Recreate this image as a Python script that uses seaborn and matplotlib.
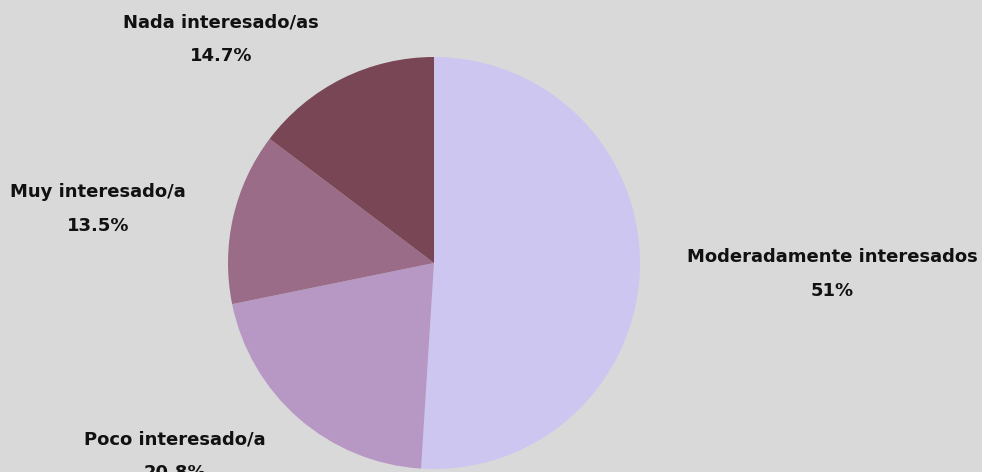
import matplotlib
matplotlib.use("Agg")
import matplotlib.pyplot as plt
import seaborn as sns

labels = ["Moderadamente interesados", "Poco interesado/a", "Muy interesado/a", "Nada interesado/as"]
values = [51, 20.8, 13.5, 14.7]
pct_text = ["51%", "20.8%", "13.5%", "14.7%"]
colors = ["#CDC6F1", "#B797C4", "#9A6C88", "#794656"]

sns.set_theme(style="white")
plt.rcParams["font.family"] = ["DejaVu Sans"]

fig = plt.figure(figsize=(9.82, 4.72), dpi=100, facecolor="#D9D9D9")
ax = fig.add_axes([0, 0, 1, 1])
ax.set_facecolor("#D9D9D9")

ax.pie(values, colors=sns.color_palette(colors), startangle=90, counterclock=False,
       center=(434, 209), radius=206, wedgeprops=dict(linewidth=0), frame=True)
ax.set_xlim(0, 982)
ax.set_ylim(0, 472)
ax.set_aspect("equal")
ax.axis("off")

# label anchors (centre of the two-line block), pixel coords
label_pos = [(832, 198), (175, 16), (98, 263), (221, 433)]
for lab, pct, (x, y) in zip(labels, pct_text, label_pos):
    ax.text(x, y, lab + "\n" + pct, ha="center", va="center", fontsize=13,
            fontweight="bold", color="#111111", linespacing=2.1)

fig.savefig("out.png", dpi=100, facecolor=fig.get_facecolor())
